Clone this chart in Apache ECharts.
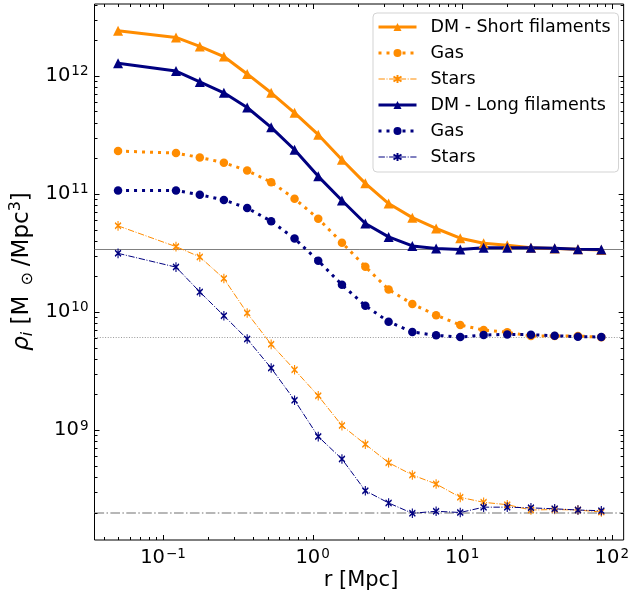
<!DOCTYPE html>
<html><head><meta charset="utf-8">
<script src="https://cdn.jsdelivr.net/npm/echarts@6/dist/echarts.min.js"></script>
<style>html,body{margin:0;padding:0;background:#fff}#c{width:632px;height:601px}</style>
</head><body><div id="c"></div>
<script>
// radial bins [Mpc]
const radius = [0.05, 0.122, 0.176, 0.255, 0.365, 0.528, 0.757, 1.09, 1.57, 2.25, 3.22, 4.64, 6.69, 9.7, 13.9, 20.0, 28.8, 41.5, 59.4, 85.1];
// densities [Msun / Mpc^3]
const dmShort    = [2.42e12, 2.12e12, 1.78e12, 1.46e12, 1.04e12, 7.2e11, 4.87e11, 3.18e11, 1.95e11, 1.23e11, 8.3e10, 6.3e10, 5.1e10, 4.22e10, 3.82e10, 3.67e10, 3.5e10, 3.45e10, 3.4e10, 3.36e10];
const gasShort   = [2.31e11, 2.22e11, 2.04e11, 1.84e11, 1.58e11, 1.26e11, 9.13e10, 6.17e10, 3.87e10, 2.42e10, 1.55e10, 1.17e10, 9.4e9, 7.76e9, 7.03e9, 6.73e9, 6.27e9, 6.27e9, 6.27e9, 6.1e9];
const starsShort = [5.37e10, 3.58e10, 2.93e10, 1.92e10, 9.8e9, 5.32e9, 3.24e9, 1.95e9, 1.09e9, 7.57e8, 5.29e8, 4.16e8, 3.49e8, 2.69e8, 2.44e8, 2.33e8, 2.1e8, 2.12e8, 2.1e8, 2.02e8];
const dmLong     = [1.28e12, 1.10e12, 8.9e11, 7.2e11, 5.4e11, 3.67e11, 2.37e11, 1.41e11, 8.8e10, 5.62e10, 4.33e10, 3.63e10, 3.45e10, 3.38e10, 3.5e10, 3.5e10, 3.5e10, 3.46e10, 3.4e10, 3.38e10];
const gasLong    = [1.07e11, 1.07e11, 9.86e10, 8.89e10, 7.6e10, 5.88e10, 4.19e10, 2.72e10, 1.70e10, 1.13e10, 8.28e9, 6.77e9, 6.34e9, 6.14e9, 6.38e9, 6.46e9, 6.42e9, 6.3e9, 6.18e9, 6.14e9];
const starsLong  = [3.14e10, 2.40e10, 1.48e10, 9.3e9, 5.9e9, 3.35e9, 1.79e9, 8.8e8, 5.68e8, 3.06e8, 2.41e8, 1.97e8, 2.05e8, 2.0e8, 2.22e8, 2.22e8, 2.19e8, 2.15e8, 2.1e8, 2.07e8];
// cosmic mean reference levels (DM, gas, stars)
const refLevels = [3.38e10, 6.06e9, 2.0e8];
const legendNames = ['DM - Short filaments', 'Gas', 'Stars', 'DM - Long filaments', 'Gas ', 'Stars '];
const xMajor = [0.1, 1, 10, 100];
const yMajor = [1e9, 1e10, 1e11, 1e12];
const X_MIN = 0.0348, X_MAX = 120, Y_MIN = 1.17e8, Y_MAX = 4.07e12;

const ORANGE = '#ff8c00', NAVY = '#000080';
const FONT = 'DejaVu Sans';

function tickList(lo, hi) {
  const out = [];
  for (let e = Math.floor(Math.log10(lo)); e <= Math.ceil(Math.log10(hi)); e++) {
    for (let m = 1; m <= 9; m++) {
      const v = m * Math.pow(10, e);
      if (v >= lo && v <= hi) out.push([v, m === 1 ? 1 : 0]);
    }
  }
  return out;
}
const xTicks = tickList(X_MIN, X_MAX);
const yTicks = tickList(Y_MIN, Y_MAX);

function pow10Label(v) {
  const e = Math.log10(v);
  if (Math.abs(e - Math.round(e)) > 1e-6) return '';
  return '{b|10}{s|' + String(Math.round(e)).replace('-', '\u2212') + '}';
}
const labelRich = {
  b: {fontSize: 19.5, fontFamily: FONT, color: '#000', lineHeight: 22},
  s: {fontSize: 13.5, fontFamily: FONT, color: '#000', verticalAlign: 'top', lineHeight: 14, padding: [0, 0, 0, 1]}
};

// "x" marker with a short vertical error-bar stroke
const xSymbol = 'path://M0,3L10,13M10,3L0,13M5,0L5,16';

function mk(name, data, color, kind) {
  const s = {
    name: name, type: 'line', data: radius.map((r, i) => [r, data[i]]),
    color: color, z: 3, animation: false
  };
  if (kind === 'dm') {
    Object.assign(s, {symbol: 'triangle', symbolSize: 10, lineStyle: {width: 3, color: color}, itemStyle: {color: color}});
  } else if (kind === 'gas') {
    Object.assign(s, {symbol: 'circle', symbolSize: 8.5, lineStyle: {width: 3, color: color, type: [3, 5]}, itemStyle: {color: color}});
  } else {
    Object.assign(s, {symbol: xSymbol, symbolSize: [6, 9.6], lineStyle: {width: 1, color: color, type: [6.4, 1.6, 1, 1.6]},
      itemStyle: {color: 'none', borderColor: color, borderWidth: 1.4}});
  }
  return s;
}

function tickSeries(list, isX) {
  return {
    type: 'custom', silent: true, clip: false, z: 10, animation: false,
    data: list.map(t => isX ? [t[0], Y_MIN, t[1]] : [X_MIN, t[0], t[1]]),
    encode: {x: 0, y: 1},
    renderItem: function (params, api) {
      const cs = params.coordSys;
      const p = api.coord([api.value(0), api.value(1)]);
      const len = api.value(2) ? 5 : 3;
      const st = {stroke: '#000', lineWidth: 1};
      if (isX) {
        const x = Math.round(p[0]) + 0.5;
        const yb = cs.y + cs.height, yt = cs.y;
        return {type: 'group', children: [
          {type: 'line', shape: {x1: x, y1: yb, x2: x, y2: yb - len}, style: st},
          {type: 'line', shape: {x1: x, y1: yt, x2: x, y2: yt + len}, style: st}
        ]};
      } else {
        const y = Math.round(p[1]) + 0.5;
        const xl = cs.x, xr = cs.x + cs.width;
        return {type: 'group', children: [
          {type: 'line', shape: {x1: xl, y1: y, x2: xl + len, y2: y}, style: st},
          {type: 'line', shape: {x1: xr, y1: y, x2: xr - len, y2: y}, style: st}
        ]};
      }
    }
  };
}

const series = [
  mk(legendNames[0], dmShort, ORANGE, 'dm'),
  mk(legendNames[1], gasShort, ORANGE, 'gas'),
  mk(legendNames[2], starsShort, ORANGE, 'stars'),
  mk(legendNames[3], dmLong, NAVY, 'dm'),
  mk(legendNames[4], gasLong, NAVY, 'gas'),
  mk(legendNames[5], starsLong, NAVY, 'stars'),
  tickSeries(xTicks, true),
  tickSeries(yTicks, false)
];
series[0].markLine = {
  symbol: 'none', silent: true, label: {show: false}, animation: false, z: 1,
  data: [
    {yAxis: refLevels[0], lineStyle: {color: '#808080', width: 1, type: 'solid'}},
    {yAxis: refLevels[1], lineStyle: {color: '#999999', width: 1, type: [1, 1.65]}},
    {yAxis: refLevels[2], lineStyle: {color: '#a0a0a0', width: 1.5, type: [9.6, 2.4, 1.5, 2.4]}}
  ]
};

const chart = echarts.init(document.getElementById('c'), null, {renderer: 'canvas'});
chart.setOption({
  backgroundColor: '#fff',
  animation: false,
  grid: {left: 94.5, top: 4, width: 531.5, height: 536, show: true, borderColor: '#000', borderWidth: 1, backgroundColor: 'transparent'},
  xAxis: {
    type: 'log', logBase: 10, min: X_MIN, max: X_MAX,
    axisLine: {show: false}, axisTick: {show: false}, splitLine: {show: false},
    axisLabel: {margin: 7, formatter: pow10Label, rich: labelRich, showMinLabel: false, showMaxLabel: false}
  },
  yAxis: {
    type: 'log', logBase: 10, min: Y_MIN, max: Y_MAX,
    axisLine: {show: false}, axisTick: {show: false}, splitLine: {show: false},
    axisLabel: {margin: 6, formatter: pow10Label, rich: labelRich, showMinLabel: false, showMaxLabel: false}
  },
  legend: {
    orient: 'vertical', left: 373, top: 13, itemWidth: 38, itemHeight: 10, itemGap: 8,
    padding: [5, 8, 6, 4], backgroundColor: 'rgba(255,255,255,0.8)', borderColor: '#d3d3d3', borderWidth: 1, borderRadius: 4,
    lineStyle: {width: 'inherit'},
    textStyle: {fontSize: 17.5, fontFamily: FONT, color: '#000', lineHeight: 18, padding: [0, 0, 0, 9]},
    data: legendNames, selectedMode: false
  },
  graphic: [
    {type: 'text', x: 361, y: 581, silent: true,
      style: {text: 'r [Mpc]', font: '21px "DejaVu Sans"', fill: '#000', align: 'center', verticalAlign: 'middle'}},
    {type: 'text', x: 22, y: 271.5, rotation: Math.PI / 2, silent: true,
      style: {
        text: '{r|\u03c1}{sub|i}{n| [M}{sun|\u2299}{n|/Mpc}{sup|3}{n|]}',
        align: 'center', verticalAlign: 'middle', fill: '#000',
        rich: {
          r: {fontSize: 23, fontFamily: FONT, fontStyle: 'italic', lineHeight: 28},
          n: {fontSize: 23, fontFamily: FONT, lineHeight: 28},
          sub: {fontSize: 16, fontFamily: FONT, fontStyle: 'italic', lineHeight: 28, verticalAlign: 'bottom'},
          sun: {fontSize: 16, fontFamily: FONT, lineHeight: 28, verticalAlign: 'bottom', padding: [0, 6, 0, 10]},
          sup: {fontSize: 16, fontFamily: FONT, lineHeight: 28, verticalAlign: 'top'}
        }
      }}
  ],
  series: series
});
</script>
</body></html>
